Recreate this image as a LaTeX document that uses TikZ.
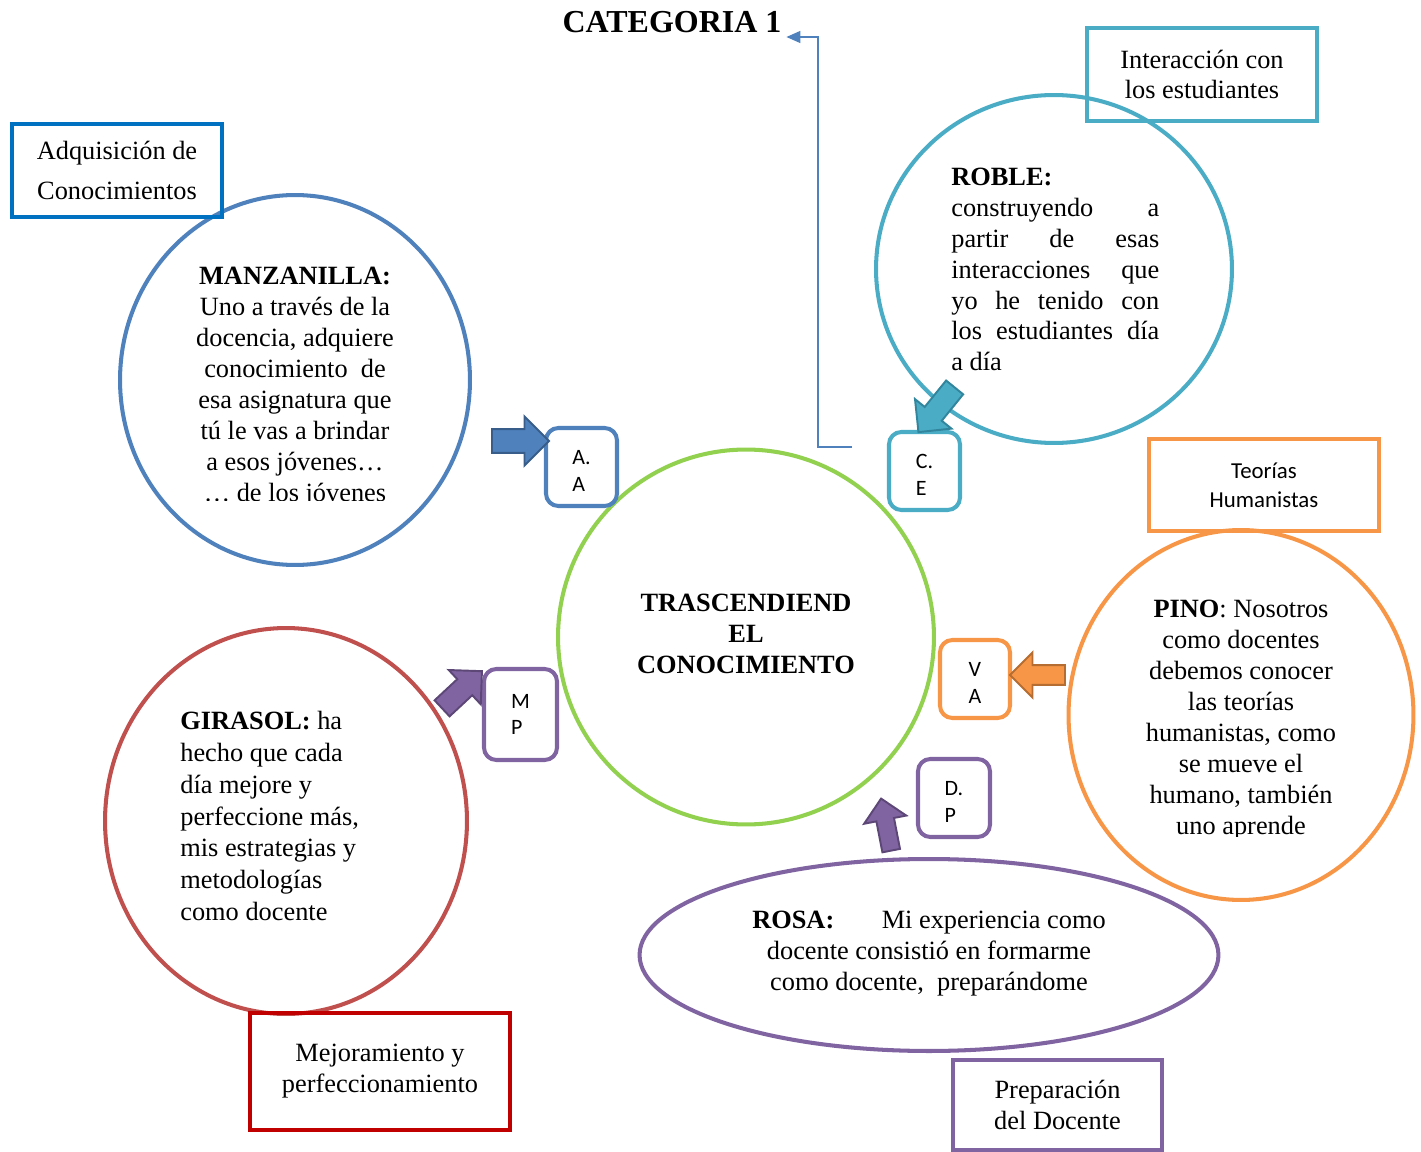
\documentclass[tikz,border=0pt]{standalone}
\usepackage{fontspec}
\setmainfont{Liberation Serif}
\newfontfamily\letrasans{Carlito}
\usepackage{xcolor}
\usepackage{tikz}
\usetikzlibrary{shapes}
\usetikzlibrary{shapes.arrows}
\usetikzlibrary{arrows.meta}
\definecolor{azul}{HTML}{4F81BD}
\definecolor{azulosc}{HTML}{385D8A}
\definecolor{azulrect}{HTML}{0070C0}
\definecolor{verde}{HTML}{92D050}
\definecolor{cian}{HTML}{4BACC6}
\definecolor{cianosc}{HTML}{31859C}
\definecolor{naranja}{HTML}{F79646}
\definecolor{naranjaosc}{HTML}{B66D31}
\definecolor{rojo}{HTML}{C0504D}
\definecolor{rojorect}{HTML}{C00000}
\definecolor{morado}{HTML}{8064A2}
\definecolor{moradoosc}{HTML}{5C4776}
\newcommand{\puntal}{\rule{0pt}{12.3pt}}
\tikzset{ elipse_tema/.style = {ellipse, draw, line width=2.3pt} }
\tikzset{ caja_tema/.style = {rectangle, draw, line width=2.3pt, align=center, inner sep=0pt, font=\fontsize{15}{17.6}\selectfont} }
\tikzset{ caja_letra/.style = {rectangle, rounded corners=7pt, draw, line width=2.3pt, align=left, inner sep=0pt, font=\letrasans\fontsize{12.5}{15.3}\selectfont} }
\tikzset{ flecha_bloque/.style = {single arrow, draw, line width=1.1pt, inner xsep=0pt, single arrow tip angle=90} }
\tikzset{ texto_circ/.style = {inner sep=0pt, font=\fontsize{15}{17.6}\selectfont} }
\tikzset{ conector/.style = {draw=azul, line width=0.85pt, -{Triangle[length=0.28cm,width=0.24cm]}} }

\begin{document}
\begin{tikzpicture}[x=0.02cm, y=-0.02cm]
        \useasboundingbox (0,0) rectangle (1421,1152);
        % titulo
        \node[inner sep=0pt, outer sep=0.1cm, font=\bfseries\fontsize{18.2}{21}\selectfont] (tit) at (672,22) {CATEGORIA 1};
        % circulos
        \node[elipse_tema, draw=azul, minimum width=7cm, minimum height=7.4cm] (manz) at (295,380) {};
        \node[elipse_tema, draw=cian, minimum width=7.12cm, minimum height=6.96cm] (roble) at (1054,269) {};
        \node[elipse_tema, draw=naranja, minimum width=6.9cm, minimum height=7.4cm] (pino) at (1241,715) {};
        \node[elipse_tema, draw=rojo, minimum width=7.24cm, minimum height=7.72cm] (gira) at (286,821) {};
        \node[elipse_tema, draw=morado, minimum width=11.58cm, minimum height=3.84cm] (rosa) at (929,955) {};
        \node[elipse_tema, draw=verde, minimum width=7.52cm, minimum height=7.5cm] (centro) at (746,637) {};
        % cajas de categoria
        \node[caja_tema, draw=azulrect, minimum width=4.2cm, minimum height=1.86cm, font=\fontsize{15}{23.2}\selectfont] (adq) at (117,170.5) {Adquisición de\\Conocimientos};
        \node[caja_tema, draw=cian, minimum width=4.6cm, minimum height=1.86cm] (inter) at (1202,74.5) {Interacción con\\los estudiantes};
        \node[caja_tema, draw=naranja, minimum width=4.6cm, minimum height=1.84cm, font=\letrasans\fontsize{13}{16.4}\selectfont] (teor) at (1264,485) {Teorías\\Humanistas};
        \node[caja_tema, draw=rojorect, minimum width=5.2cm, minimum height=2.34cm] (mejor) at (380,1071.5) {Mejoramiento y\\perfeccionamiento};
        \node[caja_tema, draw=morado, minimum width=4.18cm, minimum height=1.8cm] (prep) at (1057.5,1105) {Preparación\\del Docente};
        % cajas de siglas
        \node[caja_letra, draw=azul, minimum width=1.42cm, minimum height=1.56cm] (aa) at (581.5,467) {\puntal A.\\A};
        \node[caja_letra, draw=cian, minimum width=1.42cm, minimum height=1.56cm] (ce) at (924.5,471) {\puntal C.\\E};
        \node[caja_letra, draw=naranja, minimum width=1.4cm, minimum height=1.56cm] (va) at (975,679) {\puntal V\\A};
        \node[caja_letra, draw=morado, minimum width=1.46cm, minimum height=1.82cm] (mp) at (520.5,714.5) {M\\P};
        \node[caja_letra, draw=morado, minimum width=1.44cm, minimum height=1.56cm] (dp) at (954,798) {\puntal D.\\P};
        % flechas
        \node[flecha_bloque, fill=azul, draw=azulosc, minimum height=1.14cm, minimum width=0.96cm, inner ysep=0.22cm] (fa) at (514.5,441) {};
        \node[flecha_bloque, fill=cian, draw=cianosc, minimum height=1.15cm, minimum width=0.86cm, inner ysep=0.2cm, rotate=231] (fc) at (940,405.5) {};
        \node[flecha_bloque, fill=naranja, draw=naranjaosc, minimum height=1.1cm, minimum width=0.88cm, inner ysep=0.18cm, rotate=180] (fv) at (1042.5,675) {};
        \node[flecha_bloque, fill=morado, draw=moradoosc, minimum height=1.09cm, minimum width=0.78cm, inner ysep=0.2cm, rotate=43] (fm) at (458,693.5) {};
        \node[flecha_bloque, fill=morado, draw=moradoosc, minimum height=1.06cm, minimum width=0.74cm, inner ysep=0.16cm, rotate=101] (fd) at (887,829) {};
        % textos
        \node[texto_circ, align=center, font=\bfseries\fontsize{15}{17.6}\selectfont] (tcentro) at (746,634) {TRASCENDIEND\\EL\\CONOCIMIENTO};
        \begin{scope}
        \clip (100,240) rectangle (500,500);
        \node[texto_circ, align=center] (tmanz) at (295,387) {\textbf{MANZANILLA:}\\Uno a través de la\\docencia, adquiere\\conocimiento~ de\\esa asignatura que\\tú le vas a brindar\\a esos jóvenes…\\… de los jóvenes};
        \end{scope}
        \node[texto_circ, align=left, anchor=west] (troble) at (951,269.5) {\textbf{ROBLE:}\\\makebox[4.16cm][s]{construyendo a}\\\makebox[4.16cm][s]{partir de esas}\\\makebox[4.16cm][s]{interacciones que}\\\makebox[4.16cm][s]{yo he tenido con}\\\makebox[4.16cm][s]{los estudiantes día}\\a día};
        \begin{scope}
        \clip (1070,580) rectangle (1410,836);
        \node[texto_circ, align=center] (tpino) at (1241,720) {\textbf{PINO}: Nosotros\\como docentes\\debemos conocer\\las teorías\\humanistas, como\\se mueve el\\humano, también\\uno aprende};
        \end{scope}
        \node[texto_circ, align=left, anchor=west, font=\fontsize{15}{18.1}\selectfont] (tgira) at (180,816) {\textbf{GIRASOL:} ha\\hecho que cada\\día mejore y\\perfeccione más,\\mis estrategias y\\metodologías\\como docente};
        \node[texto_circ, align=center] (trosa) at (929,953.5) {\textbf{ROSA:}\hspace{0.95cm}Mi experiencia como\\docente consistió en formarme\\como docente,~ preparándome};
        % conector al titulo
        \coordinate (ini) at (852,447);
        \coordinate (codo) at (818,37);
        \draw[conector] (ini) -| (codo) -- (codo -| tit.east);
\end{tikzpicture}
\end{document}
